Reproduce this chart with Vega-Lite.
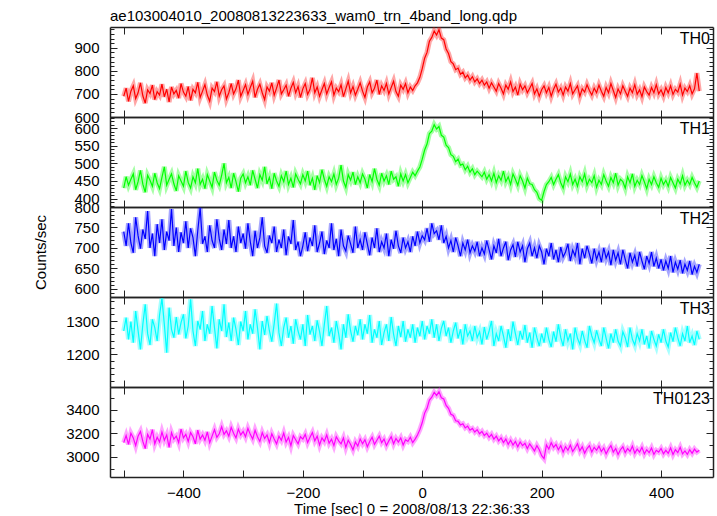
{
"$schema":"https://vega.github.io/schema/vega-lite/v6.json",
"padding":{"left":33,"top":8,"right":6,"bottom":2},
"title":{"text":"ae103004010_20080813223633_wam0_trn_4band_long.qdp","anchor":"start","frame":"group","offset":-9,"baseline":"alphabetic","fontSize":15,"fontWeight":"normal","font":"Liberation Sans","color":"#000"},
"datasets":{"lc":[
{"t":-500,"a":690,"b":430,"c":740,"d":1270,"e":3120},
{"t":-496,"a":725,"b":462,"c":705,"d":1310,"e":3180},
{"t":-492,"a":668,"b":438,"c":760,"d":1245,"e":3105},
{"t":-488,"a":712,"b":455,"c":712,"d":1298,"e":3200},
{"t":-484,"a":735,"b":470,"c":688,"d":1235,"e":3160},
{"t":-480,"a":680,"b":425,"c":775,"d":1330,"e":3095},
{"t":-476,"a":705,"b":448,"c":730,"d":1272,"e":3175},
{"t":-472,"a":748,"b":480,"c":698,"d":1215,"e":3215},
{"t":-468,"a":692,"b":441,"c":745,"d":1290,"e":3130},
{"t":-464,"a":660,"b":418,"c":722,"d":1350,"e":3070},
{"t":-460,"a":718,"b":466,"c":790,"d":1262,"e":3190},
{"t":-456,"a":702,"b":452,"c":700,"d":1228,"e":3150},
{"t":-452,"a":738,"b":435,"c":735,"d":1305,"e":3230},
{"t":-448,"a":675,"b":472,"c":680,"d":1280,"e":3110},
{"t":-444,"a":710,"b":445,"c":758,"d":1240,"e":3165},
{"t":-440,"a":695,"b":428,"c":712,"d":1318,"e":3125},
{"t":-436,"a":742,"b":460,"c":770,"d":1368,"e":3210},
{"t":-432,"a":688,"b":490,"c":695,"d":1290,"e":3140},
{"t":-428,"a":720,"b":438,"c":740,"d":1205,"e":3185},
{"t":-424,"a":665,"b":455,"c":718,"d":1340,"e":3080},
{"t":-420,"a":730,"b":470,"c":795,"d":1275,"e":3205},
{"t":-416,"a":700,"b":442,"c":705,"d":1250,"e":3150},
{"t":-412,"a":715,"b":422,"c":750,"d":1312,"e":3175},
{"t":-408,"a":682,"b":465,"c":690,"d":1260,"e":3120},
{"t":-404,"a":745,"b":450,"c":738,"d":1295,"e":3235},
{"t":-400,"a":708,"b":435,"c":712,"d":1320,"e":3160},
{"t":-396,"a":690,"b":478,"c":765,"d":1248,"e":3190},
{"t":-392,"a":732,"b":446,"c":700,"d":1285,"e":3130},
{"t":-388,"a":672,"b":430,"c":748,"d":1365,"e":3205},
{"t":-384,"a":720,"b":462,"c":725,"d":1270,"e":3170},
{"t":-380,"a":705,"b":445,"c":680,"d":1225,"e":3110},
{"t":-376,"a":750,"b":485,"c":742,"d":1300,"e":3225},
{"t":-372,"a":685,"b":440,"c":798,"d":1275,"e":3150},
{"t":-368,"a":712,"b":455,"c":710,"d":1330,"e":3185},
{"t":-364,"a":740,"b":428,"c":728,"d":1240,"e":3140},
{"t":-360,"a":695,"b":468,"c":690,"d":1290,"e":3210},
{"t":-356,"a":668,"b":450,"c":755,"d":1262,"e":3120},
{"t":-352,"a":725,"b":432,"c":718,"d":1345,"e":3175},
{"t":-348,"a":710,"b":475,"c":700,"d":1280,"e":3230},
{"t":-344,"a":752,"b":452,"c":770,"d":1218,"e":3165},
{"t":-340,"a":690,"b":438,"c":722,"d":1305,"e":3195},
{"t":-336,"a":718,"b":466,"c":695,"d":1270,"e":3255},
{"t":-332,"a":735,"b":500,"c":745,"d":1350,"e":3190},
{"t":-328,"a":678,"b":445,"c":710,"d":1252,"e":3220},
{"t":-324,"a":705,"b":460,"c":768,"d":1295,"e":3175},
{"t":-320,"a":745,"b":430,"c":700,"d":1240,"e":3250},
{"t":-316,"a":700,"b":472,"c":728,"d":1310,"e":3200},
{"t":-312,"a":722,"b":448,"c":690,"d":1275,"e":3160},
{"t":-308,"a":760,"b":420,"c":752,"d":1228,"e":3235},
{"t":-304,"a":690,"b":458,"c":712,"d":1298,"e":3185},
{"t":-300,"a":715,"b":470,"c":735,"d":1270,"e":3215},
{"t":-296,"a":740,"b":445,"c":698,"d":1330,"e":3170},
{"t":-292,"a":698,"b":462,"c":760,"d":1245,"e":3240},
{"t":-288,"a":728,"b":438,"c":715,"d":1290,"e":3190},
{"t":-284,"a":755,"b":480,"c":680,"d":1262,"e":3150},
{"t":-280,"a":685,"b":455,"c":742,"d":1335,"e":3225},
{"t":-276,"a":720,"b":430,"c":700,"d":1280,"e":3170},
{"t":-272,"a":742,"b":468,"c":725,"d":1215,"e":3130},
{"t":-268,"a":705,"b":452,"c":775,"d":1300,"e":3205},
{"t":-264,"a":675,"b":490,"c":705,"d":1258,"e":3155},
{"t":-260,"a":730,"b":442,"c":688,"d":1315,"e":3185},
{"t":-256,"a":712,"b":460,"c":730,"d":1270,"e":3120},
{"t":-252,"a":748,"b":428,"c":712,"d":1238,"e":3195},
{"t":-248,"a":695,"b":472,"c":752,"d":1292,"e":3150},
{"t":-244,"a":725,"b":450,"c":690,"d":1352,"e":3110},
{"t":-240,"a":760,"b":435,"c":720,"d":1265,"e":3175},
{"t":-236,"a":700,"b":465,"c":700,"d":1225,"e":3140},
{"t":-232,"a":718,"b":448,"c":745,"d":1280,"e":3200},
{"t":-228,"a":738,"b":478,"c":682,"d":1310,"e":3125},
{"t":-224,"a":690,"b":440,"c":728,"d":1250,"e":3165},
{"t":-220,"a":725,"b":458,"c":710,"d":1285,"e":3095},
{"t":-216,"a":750,"b":432,"c":768,"d":1232,"e":3180},
{"t":-212,"a":705,"b":470,"c":695,"d":1305,"e":3145},
{"t":-208,"a":732,"b":455,"c":715,"d":1270,"e":3110},
{"t":-204,"a":685,"b":442,"c":680,"d":1245,"e":3170},
{"t":-200,"a":722,"b":468,"c":705,"d":1290,"e":3150},
{"t":-196,"a":745,"b":450,"c":738,"d":1225,"e":3190},
{"t":-192,"a":698,"b":478,"c":692,"d":1318,"e":3120},
{"t":-188,"a":720,"b":438,"c":725,"d":1260,"e":3165},
{"t":-184,"a":770,"b":458,"c":705,"d":1285,"e":3205},
{"t":-180,"a":705,"b":425,"c":755,"d":1240,"e":3135},
{"t":-176,"a":730,"b":465,"c":690,"d":1302,"e":3175},
{"t":-172,"a":690,"b":445,"c":712,"d":1268,"e":3100},
{"t":-168,"a":718,"b":482,"c":740,"d":1225,"e":3160},
{"t":-164,"a":745,"b":455,"c":685,"d":1290,"e":3130},
{"t":-160,"a":700,"b":435,"c":718,"d":1345,"e":3185},
{"t":-156,"a":728,"b":462,"c":700,"d":1255,"e":3115},
{"t":-152,"a":752,"b":448,"c":760,"d":1280,"e":3150},
{"t":-148,"a":695,"b":470,"c":695,"d":1235,"e":3095},
{"t":-144,"a":725,"b":440,"c":722,"d":1300,"e":3170},
{"t":-140,"a":710,"b":458,"c":680,"d":1262,"e":3135},
{"t":-136,"a":740,"b":495,"c":745,"d":1215,"e":3110},
{"t":-132,"a":688,"b":450,"c":705,"d":1290,"e":3160},
{"t":-128,"a":722,"b":432,"c":692,"d":1250,"e":3080},
{"t":-124,"a":755,"b":468,"c":730,"d":1320,"e":3140},
{"t":-120,"a":705,"b":452,"c":710,"d":1270,"e":3105},
{"t":-116,"a":732,"b":475,"c":688,"d":1238,"e":3060},
{"t":-112,"a":695,"b":440,"c":752,"d":1285,"e":3125},
{"t":-108,"a":720,"b":462,"c":700,"d":1258,"e":3090},
{"t":-104,"a":748,"b":445,"c":720,"d":1305,"e":3150},
{"t":-100,"a":712,"b":470,"c":695,"d":1245,"e":3110},
{"t":-96,"a":685,"b":455,"c":738,"d":1290,"e":3145},
{"t":-92,"a":730,"b":430,"c":710,"d":1262,"e":3085},
{"t":-88,"a":752,"b":468,"c":682,"d":1318,"e":3130},
{"t":-84,"a":705,"b":448,"c":725,"d":1235,"e":3165},
{"t":-80,"a":725,"b":485,"c":700,"d":1275,"e":3105},
{"t":-76,"a":760,"b":455,"c":748,"d":1250,"e":3140},
{"t":-72,"a":698,"b":438,"c":690,"d":1300,"e":3175},
{"t":-68,"a":735,"b":472,"c":715,"d":1228,"e":3120},
{"t":-64,"a":715,"b":450,"c":700,"d":1265,"e":3150},
{"t":-60,"a":745,"b":465,"c":735,"d":1290,"e":3095},
{"t":-56,"a":700,"b":440,"c":680,"d":1240,"e":3135},
{"t":-52,"a":728,"b":478,"c":720,"d":1312,"e":3170},
{"t":-48,"a":755,"b":455,"c":698,"d":1260,"e":3110},
{"t":-44,"a":710,"b":462,"c":742,"d":1225,"e":3155},
{"t":-40,"a":690,"b":435,"c":705,"d":1285,"e":3125},
{"t":-36,"a":738,"b":470,"c":688,"d":1252,"e":3160},
{"t":-32,"a":720,"b":450,"c":725,"d":1300,"e":3100},
{"t":-28,"a":745,"b":468,"c":700,"d":1238,"e":3145},
{"t":-24,"a":705,"b":445,"c":715,"d":1275,"e":3130},
{"t":-20,"a":730,"b":460,"c":690,"d":1250,"e":3165},
{"t":-16,"a":715,"b":475,"c":728,"d":1290,"e":3120},
{"t":-12,"a":735,"b":465,"c":705,"d":1235,"e":3150},
{"t":-8,"a":748,"b":478,"c":740,"d":1280,"e":3185},
{"t":-4,"a":772,"b":490,"c":712,"d":1255,"e":3230},
{"t":0,"a":810,"b":512,"c":730,"d":1300,"e":3290},
{"t":4,"a":855,"b":538,"c":720,"d":1245,"e":3370},
{"t":8,"a":880,"b":555,"c":748,"d":1285,"e":3410},
{"t":12,"a":928,"b":585,"c":715,"d":1262,"e":3480},
{"t":16,"a":945,"b":592,"c":760,"d":1305,"e":3505},
{"t":20,"a":972,"b":610,"c":735,"d":1250,"e":3545},
{"t":24,"a":955,"b":598,"c":742,"d":1290,"e":3520},
{"t":28,"a":978,"b":605,"c":720,"d":1240,"e":3550},
{"t":32,"a":942,"b":580,"c":755,"d":1278,"e":3500},
{"t":36,"a":935,"b":575,"c":712,"d":1300,"e":3490},
{"t":40,"a":895,"b":552,"c":728,"d":1255,"e":3435},
{"t":44,"a":875,"b":545,"c":700,"d":1280,"e":3410},
{"t":48,"a":840,"b":525,"c":718,"d":1235,"e":3360},
{"t":52,"a":830,"b":520,"c":690,"d":1270,"e":3350},
{"t":56,"a":805,"b":505,"c":725,"d":1295,"e":3305},
{"t":60,"a":812,"b":512,"c":705,"d":1248,"e":3300},
{"t":64,"a":785,"b":495,"c":680,"d":1275,"e":3270},
{"t":68,"a":795,"b":498,"c":712,"d":1230,"e":3280},
{"t":72,"a":770,"b":482,"c":695,"d":1290,"e":3245},
{"t":76,"a":782,"b":492,"c":720,"d":1255,"e":3260},
{"t":80,"a":760,"b":475,"c":688,"d":1270,"e":3225},
{"t":84,"a":775,"b":485,"c":705,"d":1240,"e":3240},
{"t":88,"a":752,"b":468,"c":692,"d":1285,"e":3210},
{"t":92,"a":765,"b":478,"c":715,"d":1250,"e":3230},
{"t":96,"a":745,"b":470,"c":680,"d":1268,"e":3195},
{"t":100,"a":760,"b":462,"c":700,"d":1230,"e":3215},
{"t":104,"a":738,"b":475,"c":685,"d":1282,"e":3180},
{"t":108,"a":752,"b":455,"c":718,"d":1245,"e":3200},
{"t":112,"a":725,"b":468,"c":695,"d":1270,"e":3165},
{"t":116,"a":748,"b":450,"c":672,"d":1300,"e":3190},
{"t":120,"a":730,"b":472,"c":705,"d":1225,"e":3150},
{"t":124,"a":712,"b":445,"c":688,"d":1262,"e":3175},
{"t":128,"a":745,"b":465,"c":722,"d":1240,"e":3135},
{"t":132,"a":725,"b":452,"c":680,"d":1285,"e":3160},
{"t":136,"a":700,"b":478,"c":700,"d":1255,"e":3120},
{"t":140,"a":738,"b":448,"c":715,"d":1220,"e":3150},
{"t":144,"a":720,"b":462,"c":670,"d":1275,"e":3105},
{"t":148,"a":752,"b":440,"c":695,"d":1240,"e":3140},
{"t":152,"a":710,"b":470,"c":708,"d":1298,"e":3100},
{"t":156,"a":730,"b":455,"c":678,"d":1262,"e":3130},
{"t":160,"a":695,"b":438,"c":715,"d":1228,"e":3085},
{"t":164,"a":742,"b":465,"c":690,"d":1270,"e":3125},
{"t":168,"a":718,"b":450,"c":705,"d":1245,"e":3095},
{"t":172,"a":735,"b":430,"c":665,"d":1288,"e":3115},
{"t":176,"a":705,"b":458,"c":698,"d":1235,"e":3070},
{"t":180,"a":725,"b":442,"c":712,"d":1265,"e":3110},
{"t":184,"a":745,"b":440,"c":680,"d":1220,"e":3080},
{"t":188,"a":700,"b":425,"c":700,"d":1280,"e":3050},
{"t":192,"a":722,"b":418,"c":675,"d":1250,"e":3095},
{"t":196,"a":690,"b":400,"c":705,"d":1225,"e":3060},
{"t":200,"a":718,"b":395,"c":690,"d":1262,"e":3010},
{"t":204,"a":735,"b":420,"c":660,"d":1235,"e":2985},
{"t":208,"a":705,"b":440,"c":698,"d":1280,"e":3100},
{"t":212,"a":728,"b":448,"c":680,"d":1245,"e":3065},
{"t":216,"a":690,"b":460,"c":712,"d":1222,"e":3120},
{"t":220,"a":720,"b":440,"c":672,"d":1268,"e":3080},
{"t":224,"a":742,"b":455,"c":695,"d":1238,"e":3105},
{"t":228,"a":708,"b":468,"c":665,"d":1290,"e":3060},
{"t":232,"a":725,"b":445,"c":702,"d":1250,"e":3095},
{"t":236,"a":695,"b":430,"c":678,"d":1225,"e":3040},
{"t":240,"a":730,"b":462,"c":690,"d":1275,"e":3085},
{"t":244,"a":712,"b":448,"c":710,"d":1240,"e":3055},
{"t":248,"a":745,"b":470,"c":668,"d":1262,"e":3100},
{"t":252,"a":700,"b":440,"c":695,"d":1215,"e":3045},
{"t":256,"a":718,"b":455,"c":680,"d":1280,"e":3075},
{"t":260,"a":735,"b":435,"c":712,"d":1248,"e":3110},
{"t":264,"a":690,"b":462,"c":660,"d":1230,"e":3050},
{"t":268,"a":722,"b":448,"c":698,"d":1270,"e":3085},
{"t":272,"a":708,"b":470,"c":675,"d":1242,"e":3030},
{"t":276,"a":740,"b":438,"c":705,"d":1220,"e":3070},
{"t":280,"a":715,"b":455,"c":685,"d":1285,"e":3095},
{"t":284,"a":695,"b":445,"c":662,"d":1255,"e":3040},
{"t":288,"a":725,"b":465,"c":698,"d":1235,"e":3080},
{"t":292,"a":705,"b":432,"c":672,"d":1272,"e":3055},
{"t":296,"a":738,"b":452,"c":690,"d":1245,"e":3090},
{"t":300,"a":712,"b":440,"c":665,"d":1225,"e":3045},
{"t":304,"a":690,"b":468,"c":700,"d":1280,"e":3075},
{"t":308,"a":728,"b":450,"c":675,"d":1248,"e":3025},
{"t":312,"a":705,"b":435,"c":690,"d":1218,"e":3065},
{"t":316,"a":745,"b":460,"c":658,"d":1262,"e":3095},
{"t":320,"a":715,"b":445,"c":695,"d":1235,"e":3040},
{"t":324,"a":685,"b":472,"c":670,"d":1275,"e":3070},
{"t":328,"a":722,"b":438,"c":688,"d":1240,"e":3020},
{"t":332,"a":700,"b":455,"c":660,"d":1225,"e":3060},
{"t":336,"a":735,"b":448,"c":695,"d":1268,"e":3085},
{"t":340,"a":712,"b":430,"c":672,"d":1250,"e":3035},
{"t":344,"a":690,"b":462,"c":650,"d":1222,"e":3070},
{"t":348,"a":725,"b":445,"c":688,"d":1280,"e":3045},
{"t":352,"a":705,"b":470,"c":665,"d":1245,"e":3090},
{"t":356,"a":740,"b":435,"c":682,"d":1228,"e":3030},
{"t":360,"a":698,"b":452,"c":655,"d":1262,"e":3065},
{"t":364,"a":718,"b":440,"c":690,"d":1240,"e":3040},
{"t":368,"a":688,"b":465,"c":668,"d":1275,"e":3080},
{"t":372,"a":730,"b":448,"c":648,"d":1230,"e":3025},
{"t":376,"a":710,"b":428,"c":680,"d":1255,"e":3060},
{"t":380,"a":695,"b":455,"c":662,"d":1218,"e":3035},
{"t":384,"a":728,"b":440,"c":690,"d":1270,"e":3075},
{"t":388,"a":705,"b":462,"c":655,"d":1245,"e":3020},
{"t":392,"a":740,"b":445,"c":675,"d":1225,"e":3055},
{"t":396,"a":700,"b":432,"c":650,"d":1260,"e":3040},
{"t":400,"a":718,"b":458,"c":672,"d":1235,"e":3070},
{"t":404,"a":692,"b":440,"c":645,"d":1275,"e":3025},
{"t":408,"a":728,"b":452,"c":668,"d":1240,"e":3055},
{"t":412,"a":705,"b":435,"c":650,"d":1222,"e":3030},
{"t":416,"a":735,"b":460,"c":680,"d":1265,"e":3075},
{"t":420,"a":698,"b":445,"c":640,"d":1238,"e":3020},
{"t":424,"a":720,"b":430,"c":665,"d":1280,"e":3060},
{"t":428,"a":708,"b":455,"c":648,"d":1250,"e":3035},
{"t":432,"a":742,"b":442,"c":670,"d":1225,"e":3080},
{"t":436,"a":695,"b":465,"c":638,"d":1262,"e":3025},
{"t":440,"a":725,"b":438,"c":660,"d":1240,"e":3050},
{"t":444,"a":710,"b":452,"c":645,"d":1285,"e":3020},
{"t":448,"a":735,"b":440,"c":668,"d":1235,"e":3060},
{"t":452,"a":700,"b":460,"c":635,"d":1255,"e":3030},
{"t":456,"a":722,"b":445,"c":655,"d":1228,"e":3065},
{"t":460,"a":790,"b":432,"c":640,"d":1270,"e":3040},
{"t":464,"a":712,"b":450,"c":660,"d":1245,"e":3055}
]},
"data":{"name":"lc"},
"spacing":0,
"bounds":"flush",
"vconcat":[
{"width":603,"height":90,
 "layer":[
  {"mark":{"type":"line","color":"#ff0000","strokeWidth":5,"opacity":0.35,"clip":true},
   "encoding":{
    "x":{"field":"t","type":"quantitative","scale":{"domain":[-523,487],"nice":false,"zero":false},"axis":{"orient":"bottom","values":[-500,-400,-300,-200,-100,0,100,200,300,400],"labels":false,"tickSize":-7,"title":null}},
    "y":{"field":"a","type":"quantitative","scale":{"domain":[600,990],"nice":false,"zero":false},"axis":{"orient":"left","values":[600,700,800,900],"format":"d","tickSize":-7,"title":null}}}},
  {"mark":{"type":"line","color":"#ff0000","strokeWidth":1.2,"clip":true},
   "encoding":{
    "x":{"field":"t","type":"quantitative","axis":{"orient":"top","values":[-500,-400,-300,-200,-100,0,100,200,300,400],"labels":false,"tickSize":-7,"title":null}},
    "y":{"field":"a","type":"quantitative","axis":{"orient":"right","values":[600,700,800,900],"labels":false,"tickSize":-7,"title":null}}}},
  {"mark":{"type":"line","opacity":0},
   "encoding":{"x":{"field":"t","type":"quantitative","axis":null},
    "y":{"field":"a","type":"quantitative","axis":{"orient":"left","values":[620,640,660,680,720,740,760,780,820,840,860,880,920,940,960,980],"labels":false,"domain":false,"tickSize":-4,"title":null}}}},
  {"mark":{"type":"line","opacity":0},
   "encoding":{"x":{"field":"t","type":"quantitative","axis":null},
    "y":{"field":"a","type":"quantitative","axis":{"orient":"right","values":[620,640,660,680,720,740,760,780,820,840,860,880,920,940,960,980],"labels":false,"domain":false,"tickSize":-4,"title":null}}}},
  {"data":{"values":[{"lab":"TH0"}]},
   "mark":{"type":"text","align":"right","baseline":"alphabetic","dx":-3,"dy":17,"fontSize":16,"font":"Liberation Sans","color":"#000"},
   "encoding":{"x":{"datum":487,"type":"quantitative","axis":null},"y":{"datum":990,"type":"quantitative","axis":null},"text":{"field":"lab"}}}
 ],
 "resolve":{"axis":{"x":"independent","y":"independent"}}},
{"width":603,"height":90,
 "layer":[
  {"mark":{"type":"line","color":"#00ff00","strokeWidth":5,"opacity":0.35,"clip":true},
   "encoding":{
    "x":{"field":"t","type":"quantitative","scale":{"domain":[-523,487],"nice":false,"zero":false},"axis":{"orient":"bottom","values":[-500,-400,-300,-200,-100,0,100,200,300,400],"labels":false,"tickSize":-7,"title":null}},
    "y":{"field":"b","type":"quantitative","scale":{"domain":[376,632],"nice":false,"zero":false},"axis":{"orient":"left","values":[400,450,500,550,600],"format":"d","tickSize":-7,"title":null}}}},
  {"mark":{"type":"line","color":"#00ff00","strokeWidth":1.2,"clip":true},
   "encoding":{
    "x":{"field":"t","type":"quantitative","axis":{"orient":"top","values":[-500,-400,-300,-200,-100,0,100,200,300,400],"labels":false,"tickSize":-7,"title":null}},
    "y":{"field":"b","type":"quantitative","axis":{"orient":"right","values":[400,450,500,550,600],"labels":false,"tickSize":-7,"title":null}}}},
  {"mark":{"type":"line","opacity":0},
   "encoding":{"x":{"field":"t","type":"quantitative","axis":null},
    "y":{"field":"b","type":"quantitative","axis":{"orient":"left","values":[380,390,410,420,430,440,460,470,480,490,510,520,530,540,560,570,580,590,610,620,630],"labels":false,"domain":false,"tickSize":-4,"title":null}}}},
  {"mark":{"type":"line","opacity":0},
   "encoding":{"x":{"field":"t","type":"quantitative","axis":null},
    "y":{"field":"b","type":"quantitative","axis":{"orient":"right","values":[380,390,410,420,430,440,460,470,480,490,510,520,530,540,560,570,580,590,610,620,630],"labels":false,"domain":false,"tickSize":-4,"title":null}}}},
  {"data":{"values":[{"lab":"TH1"}]},
   "mark":{"type":"text","align":"right","baseline":"alphabetic","dx":-3,"dy":17,"fontSize":16,"font":"Liberation Sans","color":"#000"},
   "encoding":{"x":{"datum":487,"type":"quantitative","axis":null},"y":{"datum":632,"type":"quantitative","axis":null},"text":{"field":"lab"}}}
 ],
 "resolve":{"axis":{"x":"independent","y":"independent"}}},
{"width":603,"height":90,
 "layer":[
  {"mark":{"type":"line","color":"#0000ff","strokeWidth":5,"opacity":0.35,"clip":true},
   "encoding":{
    "x":{"field":"t","type":"quantitative","scale":{"domain":[-523,487],"nice":false,"zero":false},"axis":{"orient":"bottom","values":[-500,-400,-300,-200,-100,0,100,200,300,400],"labels":false,"tickSize":-7,"title":null}},
    "y":{"field":"c","type":"quantitative","scale":{"domain":[580,800],"nice":false,"zero":false},"axis":{"orient":"left","values":[600,650,700,750,800],"format":"d","tickSize":-7,"title":"Counts/sec","titlePadding":25}}}},
  {"mark":{"type":"line","color":"#0000ff","strokeWidth":1.2,"clip":true},
   "encoding":{
    "x":{"field":"t","type":"quantitative","axis":{"orient":"top","values":[-500,-400,-300,-200,-100,0,100,200,300,400],"labels":false,"tickSize":-7,"title":null}},
    "y":{"field":"c","type":"quantitative","axis":{"orient":"right","values":[600,650,700,750,800],"labels":false,"tickSize":-7,"title":null}}}},
  {"mark":{"type":"line","opacity":0},
   "encoding":{"x":{"field":"t","type":"quantitative","axis":null},
    "y":{"field":"c","type":"quantitative","axis":{"orient":"left","values":[590,610,620,630,640,660,670,680,690,710,720,730,740,760,770,780,790],"labels":false,"domain":false,"tickSize":-4,"title":null}}}},
  {"mark":{"type":"line","opacity":0},
   "encoding":{"x":{"field":"t","type":"quantitative","axis":null},
    "y":{"field":"c","type":"quantitative","axis":{"orient":"right","values":[590,610,620,630,640,660,670,680,690,710,720,730,740,760,770,780,790],"labels":false,"domain":false,"tickSize":-4,"title":null}}}},
  {"data":{"values":[{"lab":"TH2"}]},
   "mark":{"type":"text","align":"right","baseline":"alphabetic","dx":-3,"dy":17,"fontSize":16,"font":"Liberation Sans","color":"#000"},
   "encoding":{"x":{"datum":487,"type":"quantitative","axis":null},"y":{"datum":800,"type":"quantitative","axis":null},"text":{"field":"lab"}}}
 ],
 "resolve":{"axis":{"x":"independent","y":"independent"}}},
{"width":603,"height":90,
 "layer":[
  {"mark":{"type":"line","color":"#00ffff","strokeWidth":5,"opacity":0.35,"clip":true},
   "encoding":{
    "x":{"field":"t","type":"quantitative","scale":{"domain":[-523,487],"nice":false,"zero":false},"axis":{"orient":"bottom","values":[-500,-400,-300,-200,-100,0,100,200,300,400],"labels":false,"tickSize":-7,"title":null}},
    "y":{"field":"d","type":"quantitative","scale":{"domain":[1102,1372],"nice":false,"zero":false},"axis":{"orient":"left","values":[1200,1300],"format":"d","tickSize":-7,"title":null}}}},
  {"mark":{"type":"line","color":"#00ffff","strokeWidth":1.2,"clip":true},
   "encoding":{
    "x":{"field":"t","type":"quantitative","axis":{"orient":"top","values":[-500,-400,-300,-200,-100,0,100,200,300,400],"labels":false,"tickSize":-7,"title":null}},
    "y":{"field":"d","type":"quantitative","axis":{"orient":"right","values":[1200,1300],"labels":false,"tickSize":-7,"title":null}}}},
  {"mark":{"type":"line","opacity":0},
   "encoding":{"x":{"field":"t","type":"quantitative","axis":null},
    "y":{"field":"d","type":"quantitative","axis":{"orient":"left","values":[1120,1140,1160,1180,1220,1240,1260,1280,1320,1340,1360],"labels":false,"domain":false,"tickSize":-4,"title":null}}}},
  {"mark":{"type":"line","opacity":0},
   "encoding":{"x":{"field":"t","type":"quantitative","axis":null},
    "y":{"field":"d","type":"quantitative","axis":{"orient":"right","values":[1120,1140,1160,1180,1220,1240,1260,1280,1320,1340,1360],"labels":false,"domain":false,"tickSize":-4,"title":null}}}},
  {"data":{"values":[{"lab":"TH3"}]},
   "mark":{"type":"text","align":"right","baseline":"alphabetic","dx":-3,"dy":17,"fontSize":16,"font":"Liberation Sans","color":"#000"},
   "encoding":{"x":{"datum":487,"type":"quantitative","axis":null},"y":{"datum":1372,"type":"quantitative","axis":null},"text":{"field":"lab"}}}
 ],
 "resolve":{"axis":{"x":"independent","y":"independent"}}},
{"width":603,"height":90,
 "layer":[
  {"mark":{"type":"line","color":"#ff00ff","strokeWidth":5,"opacity":0.35,"clip":true},
   "encoding":{
    "x":{"field":"t","type":"quantitative","scale":{"domain":[-523,487],"nice":false,"zero":false},"axis":{"orient":"bottom","values":[-500,-400,-300,-200,-100,0,100,200,300,400],"labels":true,"labelExpr":"datum.value % 200 == 0 ? datum.label : ''","labelPadding":15,"tickSize":-7,"title":"Time [sec] 0 = 2008/08/13 22:36:33","titlePadding":1}},
    "y":{"field":"e","type":"quantitative","scale":{"domain":[2829,3591],"nice":false,"zero":false},"axis":{"orient":"left","values":[3000,3200,3400],"format":"d","tickSize":-7,"title":null}}}},
  {"mark":{"type":"line","color":"#ff00ff","strokeWidth":1.2,"clip":true},
   "encoding":{
    "x":{"field":"t","type":"quantitative","axis":{"orient":"top","values":[-500,-400,-300,-200,-100,0,100,200,300,400],"labels":false,"tickSize":-7,"title":null}},
    "y":{"field":"e","type":"quantitative","axis":{"orient":"right","values":[3000,3200,3400],"labels":false,"tickSize":-7,"title":null}}}},
  {"mark":{"type":"line","opacity":0},
   "encoding":{"x":{"field":"t","type":"quantitative","axis":null},
    "y":{"field":"e","type":"quantitative","axis":{"orient":"left","values":[2900,3100,3300,3500],"labels":false,"domain":false,"tickSize":-4,"title":null}}}},
  {"mark":{"type":"line","opacity":0},
   "encoding":{"x":{"field":"t","type":"quantitative","axis":null},
    "y":{"field":"e","type":"quantitative","axis":{"orient":"right","values":[2900,3100,3300,3500],"labels":false,"domain":false,"tickSize":-4,"title":null}}}},
  {"data":{"values":[{"lab":"TH0123"}]},
   "mark":{"type":"text","align":"right","baseline":"alphabetic","dx":-3,"dy":17,"fontSize":16,"font":"Liberation Sans","color":"#000"},
   "encoding":{"x":{"datum":487,"type":"quantitative","axis":null},"y":{"datum":3591,"type":"quantitative","axis":null},"text":{"field":"lab"}}}
 ],
 "resolve":{"axis":{"x":"independent","y":"independent"}}}
],
"config":{
 "view":{"stroke":null},
 "font":"Liberation Sans",
 "axis":{"domainColor":"#222","domainWidth":1.5,"tickColor":"#222","tickWidth":1,"labelFont":"Liberation Sans","labelFontSize":15,"labelColor":"#000","labelPadding":18,"titleFont":"Liberation Sans","titleFontSize":15,"titleFontWeight":"normal","titleColor":"#000","grid":false,"minExtent":0,"labelFlush":false,"labelOverlap":false}
}
}
